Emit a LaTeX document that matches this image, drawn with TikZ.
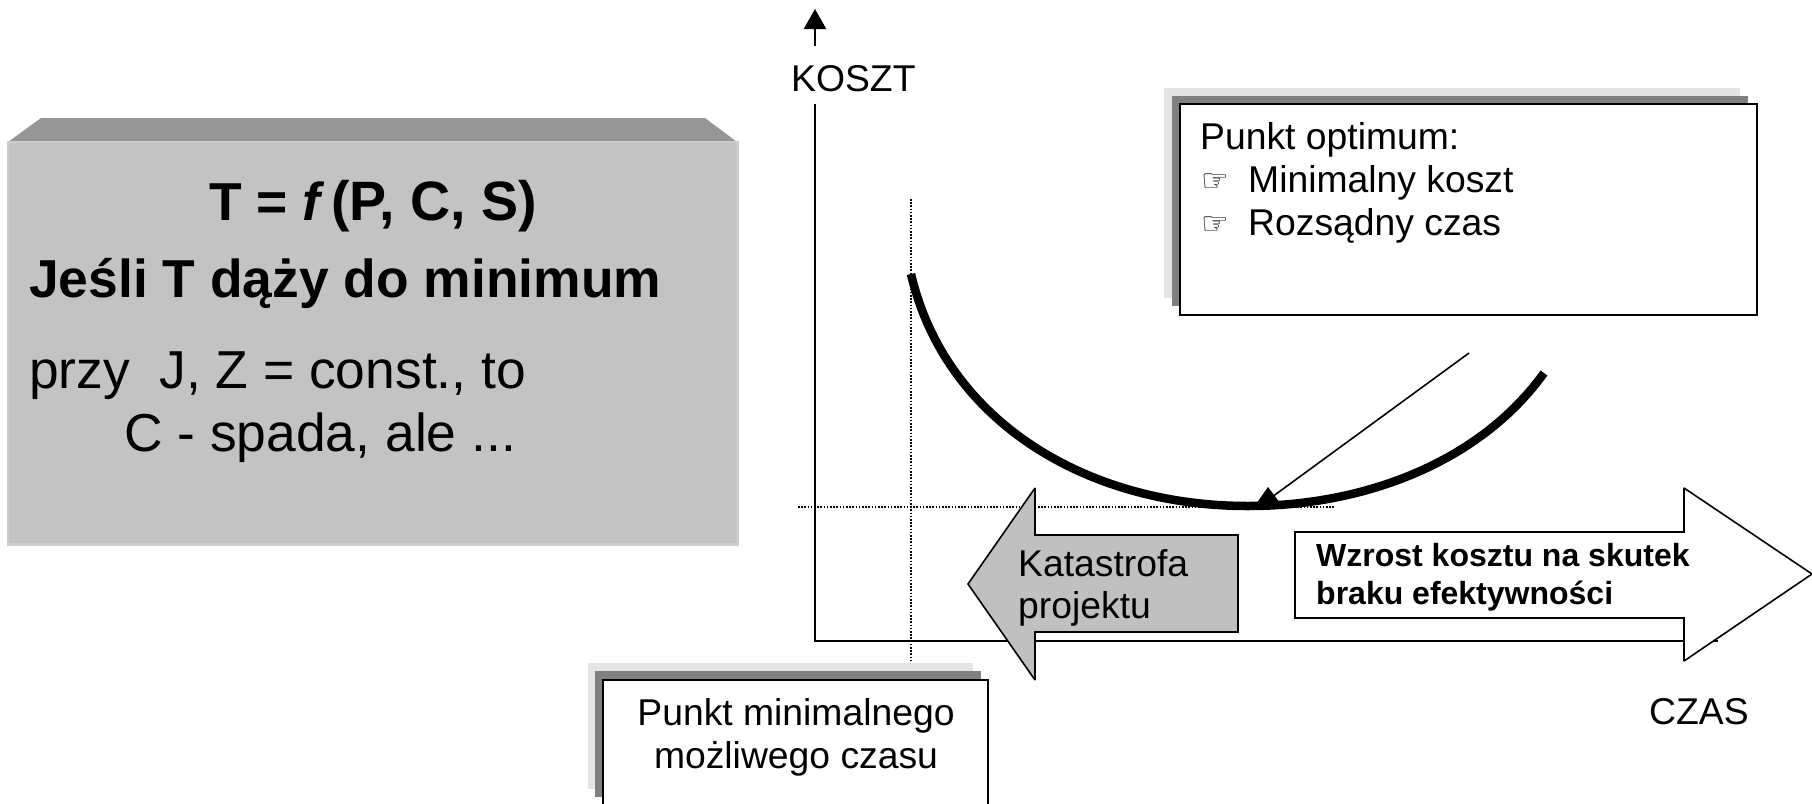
\documentclass[tikz,border=0pt]{standalone}
\usepackage{fontspec}
\setmainfont{Liberation Sans}
\newfontfamily\symfont{DejaVu Sans}
\usetikzlibrary{arrows.meta,calc}
\definecolor{boxgray}{HTML}{C3C3C3}
\definecolor{arrowgray}{HTML}{C0C0C0}
\definecolor{facegray}{HTML}{969696}
\definecolor{edgegray}{HTML}{CDCDCD}
\definecolor{shadowdark}{HTML}{808080}
\definecolor{shadowlight}{HTML}{E4E4E4}
\tikzset{
  bigtxt/.style={anchor=base west,inner sep=0pt,font=\fontsize{53.4}{53.4}\selectfont},
  boldbig/.style={anchor=base west,inner sep=0pt,font=\fontsize{53.4}{53.4}\selectfont\bfseries},
  midtxt/.style={anchor=base west,inner sep=0pt,font=\fontsize{37.3}{37.3}\selectfont},
  boldtxt/.style={anchor=base west,inner sep=0pt,font=\fontsize{32}{32}\selectfont\bfseries},
  ctrtxt/.style={anchor=base,inner sep=0pt,font=\fontsize{37.3}{37.3}\selectfont},
  handtxt/.style={anchor=base west,inner sep=0pt,font=\fontsize{31}{31}\selectfont\symfont},
  axisline/.style={line width=2.5pt,black},
  dotline/.style={line width=1.2pt,black,dash pattern=on 1.6pt off 1.6pt},
  callout/.style={draw=black,line width=2pt,fill=white},
  blockarrow/.style={draw=black,line width=1.6pt,line join=miter,miter limit=2},
}
\begin{document}
\begin{tikzpicture}[x=1pt,y=-1pt]
\useasboundingbox (0,0) rectangle (1812,803);
\fill[white] (0,0) rectangle (1812,803);
% left block
\fill[facegray] (8,142) -- (41,118) -- (705,118) -- (737,142) -- cycle;
\fill[edgegray] (7,141) rectangle (739,546);
\fill[boxgray] (9,143) rectangle (736,543);
\node[boldbig] (formula) at (209,220) {T = \textit{f}\hspace{0.12em}{\fontsize{55.5}{55.5}\selectfont (P, C, S)}};
\node[boldbig] (cond) at (29,297) {Jeśli T dąży do minimum};
\node[bigtxt] (przy) at (29,388) {przy\hspace{0.55em}J, Z = const., to};
\node[bigtxt] (spada) at (124,451) {C - spada, ale ...};
% axes
\coordinate (origin) at (815,641);
\coordinate (ytop) at (815,9);
\coordinate (xend) at (1718,641);
\node[midtxt] (koszt) at (791,91) {KOSZT};
\draw[axisline] (origin |- 0,104) -- (origin) -- (xend);
\draw[axisline,-{Triangle[length=20pt,width=22pt]}] (origin |- 0,46) -- (ytop);
% dotted guides
\coordinate (hs) at (798,507);
\coordinate (he) at (1335,507);
\coordinate (vs) at (911,199);
\coordinate (ve) at (911,662);
\draw[dotline] (hs) -- (he);
\draw[dotline] (vs) -- (ve);
% cost curve
\coordinate (c1) at (911,274);
\coordinate (c2) at (1248,506);
\coordinate (c3) at (1544,373);
\draw[line width=8.5pt,black] (c1) .. controls (945,420) and (1085,506) .. (c2) .. controls (1365,506) and (1480,462) .. (c3);
% pointer
\coordinate (ps) at (1469,353);
\coordinate (pe) at (1272,497);
\draw[line width=1.6pt,black] (ps) -- (pe);
\fill[black] (1268,487) -- (1283,507) -- (1254,507) -- cycle;
% grey arrow
\draw[blockarrow,fill=arrowgray] (968,584) -- (1035,488) -- (1035,535) -- (1238,535) -- (1238,632) -- (1035,632) -- (1035,680) -- cycle;
\node[midtxt] (kat) at (1018,576) {Katastrofa};
\node[midtxt] (proj) at (1018,618) {projektu};
% white arrow
\draw[blockarrow,fill=white] (1812,574) -- (1684,488) -- (1684,532) -- (1295,532) -- (1295,618) -- (1684,618) -- (1684,661) -- cycle;
\node[boldtxt] (wz) at (1316,566) {Wzrost kosztu na skutek};
\node[boldtxt] (br) at (1316,604) {braku efektywności};
\node[midtxt] (czas) at (1649,724) {CZAS};
% optimum callout
\fill[shadowlight] (1164,88) rectangle (1740,298);
\fill[shadowdark] (1172,96) rectangle (1748,306);
\node[callout,anchor=north west,minimum width=577pt,minimum height=211pt,inner sep=0pt] (opt) at (1179,103) {};
\node[midtxt] (o1) at (1200,149) {Punkt optimum:};
\node[handtxt] (h1) at (1201,191) {☞};
\node[midtxt] (o2) at (1248,192) {Minimalny koszt};
\node[handtxt] (h2) at (1201,234) {☞};
\node[midtxt] (o3) at (1248,235) {Rozsądny czas};
% minimal time callout
\fill[shadowlight] (588,663) rectangle (973,789);
\fill[shadowdark] (595,671) rectangle (981,797);
\draw[line width=2pt,fill=white] (603,810) -- (603,680) -- (988,680) -- (988,810);
\node[ctrtxt] (m1) at (796,725) {Punkt minimalnego};
\node[ctrtxt] (m2) at (796,768) {możliwego czasu};
\end{tikzpicture}
\end{document}
